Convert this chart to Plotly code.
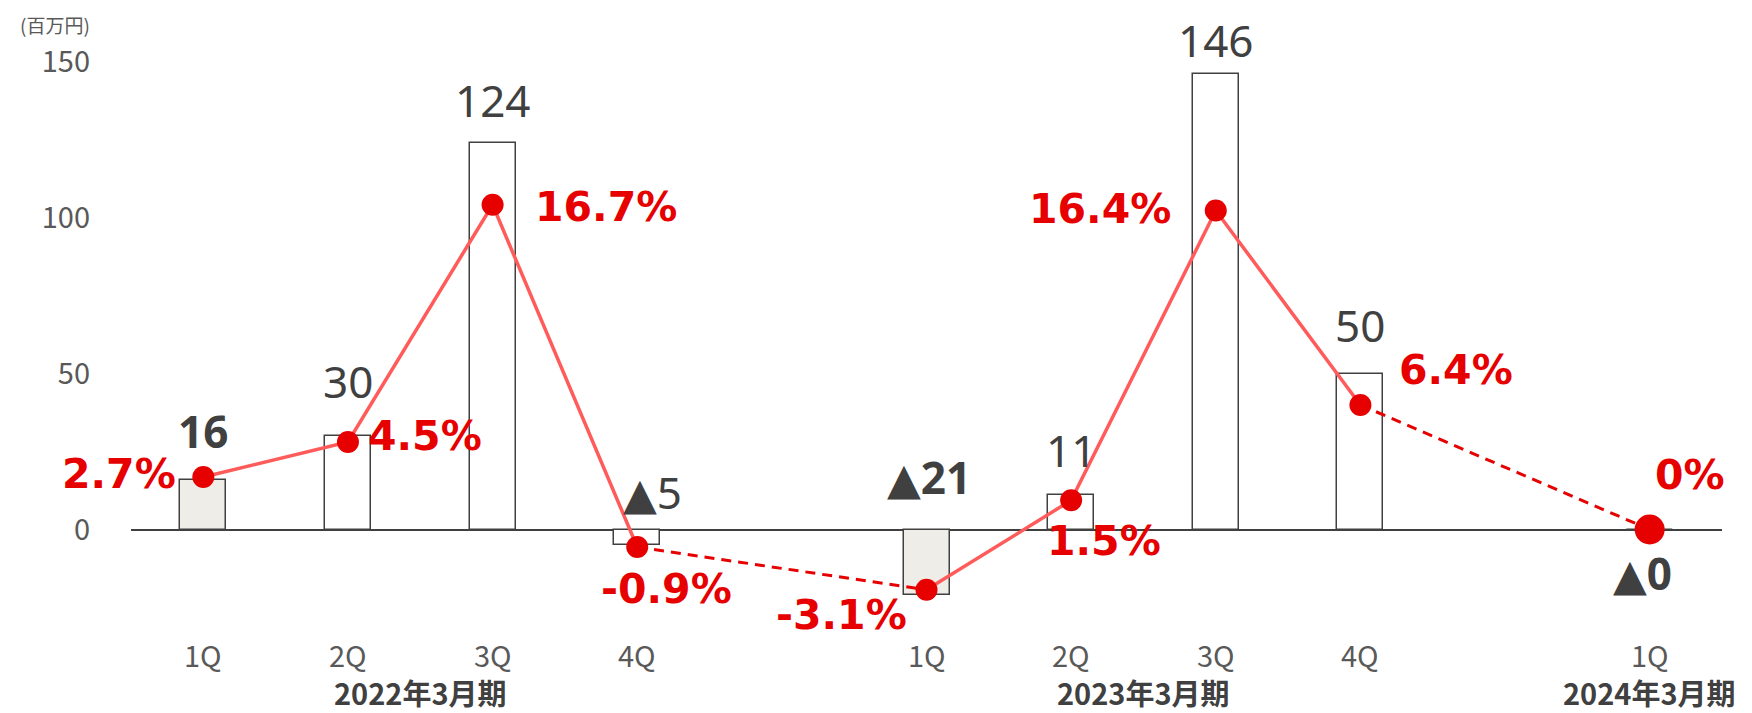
import plotly.graph_objects as go

# ---------------- data ----------------
quarters = ["1Q", "2Q", "3Q", "4Q", "", "1Q", "2Q", "3Q", "4Q", "", "1Q"]
fiscal_years = ["2022年3月期", "2023年3月期", "2024年3月期"]
slot_year = [0, 0, 0, 0, None, 1, 1, 1, 1, None, 2]
profit = [16, 30, 124, -5, None, -21, 11, 146, 50, None, 0]
profit_labels = ["16", "30", "124", "▲5", "", "▲21", "11", "146", "50", "", "▲0"]
margin = [2.7, 4.5, 16.7, -0.9, None, -3.1, 1.5, 16.4, 6.4, None, 0]
margin_labels = ["2.7%", "4.5%", "16.7%", "-0.9%", "", "-3.1%", "1.5%", "16.4%", "6.4%", "", "0%"]
y_ticks = [0, 50, 100, 150]
unit_label = "(百万円)"

# ---------------- styles ----------------
FONT = "Noto Sans CJK JP, Noto Sans, sans-serif"
NUM_FONT = "Noto Sans, DejaVu Sans, sans-serif"
PCT_FONT = "DejaVu Sans, sans-serif"
DARK = "#404040"
GRAY = "#595959"
RED = "#E60000"
LINE_RED = "#FF5B5B"
FILL_1Q = "#EFEDE7"

# label offsets (px) per slot: (xshift, yshift)
bar_label_offsets = [(0, 49), (0, 55), (0, 43), (15, 38), None, (2, 53), (0, 45), (0, 34), (0, 49), None, (-7, -43)]
pct_label_style = [("right", -25, 3), ("left", 18, 6), ("left", 40, -2), ("center", 29, -42), None,
                   ("center", -85, -25), ("center", 33, -41), ("right", -43, 2), ("left", 37, 35), None,
                   ("center", 40, 55)]

x = list(range(len(quarters)))
fig = go.Figure()

# bars
bar_fill = [FILL_1Q if q == "1Q" else "white" for q in quarters]
fig.add_trace(go.Bar(
    x=x, y=profit, width=0.318,
    marker=dict(color=bar_fill, line=dict(color=DARK, width=1.5)),
    hoverinfo="skip", showlegend=False, yaxis="y",
))

# solid margin line (breaks at gaps)
fig.add_trace(go.Scatter(
    x=x, y=margin, mode="lines", connectgaps=False,
    line=dict(color=LINE_RED, width=3.5), yaxis="y2", showlegend=False, hoverinfo="skip",
))

# dashed connectors across empty slots
dx, dy = [], []
for i, v in enumerate(margin):
    if v is None and 0 < i < len(margin) - 1:
        dx += [i - 1, i + 1, None]
        dy += [margin[i - 1], margin[i + 1], None]
fig.add_trace(go.Scatter(
    x=dx, y=dy, mode="lines",
    line=dict(color=RED, width=3, dash="10px,7px"), yaxis="y2", showlegend=False, hoverinfo="skip",
))

# markers
sizes = [30 if i == len(margin) - 1 else 22 for i in range(len(margin))]
fig.add_trace(go.Scatter(
    x=x, y=margin, mode="markers",
    marker=dict(color=RED, size=sizes, opacity=1, line=dict(width=0)),
    yaxis="y2", showlegend=False, hoverinfo="skip",
))

annotations = []
# bar value labels
for i, (v, lab) in enumerate(zip(profit, profit_labels)):
    if v is None:
        continue
    xs, ys = bar_label_offsets[i]
    bold = quarters[i] == "1Q"
    annotations.append(dict(
        x=i, y=max(v, 0), xref="x", yref="y", text=lab, showarrow=False,
        xanchor="center", yanchor="middle", xshift=xs, yshift=ys,
        font=dict(family=NUM_FONT, size=44, color=DARK, weight="bold" if bold else "normal"),
    ))
# margin labels
for i, (v, lab) in enumerate(zip(margin, margin_labels)):
    if v is None:
        continue
    xa, xs, ys = pct_label_style[i]
    annotations.append(dict(
        x=i, y=v, xref="x", yref="y2", text=lab, showarrow=False,
        xanchor=xa, yanchor="middle", xshift=xs, yshift=ys,
        font=dict(family=PCT_FONT, size=41, color=RED, weight="bold"),
    ))
# quarter labels
for i, q in enumerate(quarters):
    if not q:
        continue
    annotations.append(dict(
        x=i, y=0, xref="x", yref="paper", text=q, showarrow=False,
        xanchor="center", yanchor="middle", yshift=-31,
        font=dict(family=FONT, size=29, color=GRAY),
    ))
# fiscal year labels
for k, fy in enumerate(fiscal_years):
    members = [i for i, s in enumerate(slot_year) if s == k]
    cx = sum(members) / len(members)
    annotations.append(dict(
        x=cx, y=0, xref="x", yref="paper", text=fy, showarrow=False,
        xanchor="center", yanchor="middle", yshift=-69,
        font=dict(family=FONT, size=29, color=DARK, weight="bold"),
    ))
# unit label
annotations.append(dict(
    x=0, y=1, xref="paper", yref="paper", text=unit_label, showarrow=False,
    xanchor="center", yanchor="middle", xshift=-76, yshift=38,
    font=dict(family=FONT, size=19, color=GRAY),
))

y_range = [-30, 150]
ratio = 6.24
fig.update_layout(
    width=1744, height=705,
    margin=dict(l=123, r=30, t=54, b=90),
    paper_bgcolor="white", plot_bgcolor="white",
    bargap=0,
    xaxis=dict(range=[-0.5, len(quarters) - 0.5], showticklabels=False, showgrid=False,
               zeroline=False, showline=False, ticks=""),
    yaxis=dict(range=y_range, tickvals=y_ticks, showgrid=False, zeroline=True,
               zerolinecolor=DARK, zerolinewidth=2, showline=False, ticks="",
               ticklabelstandoff=40, tickfont=dict(family=FONT, size=29, color=GRAY)),
    yaxis2=dict(range=[y_range[0] / ratio, y_range[1] / ratio], overlaying="y", side="right",
                showgrid=False, zeroline=False, showticklabels=False, showline=False, ticks=""),
    annotations=annotations,
    showlegend=False,
)

fig.write_html("out.html")
